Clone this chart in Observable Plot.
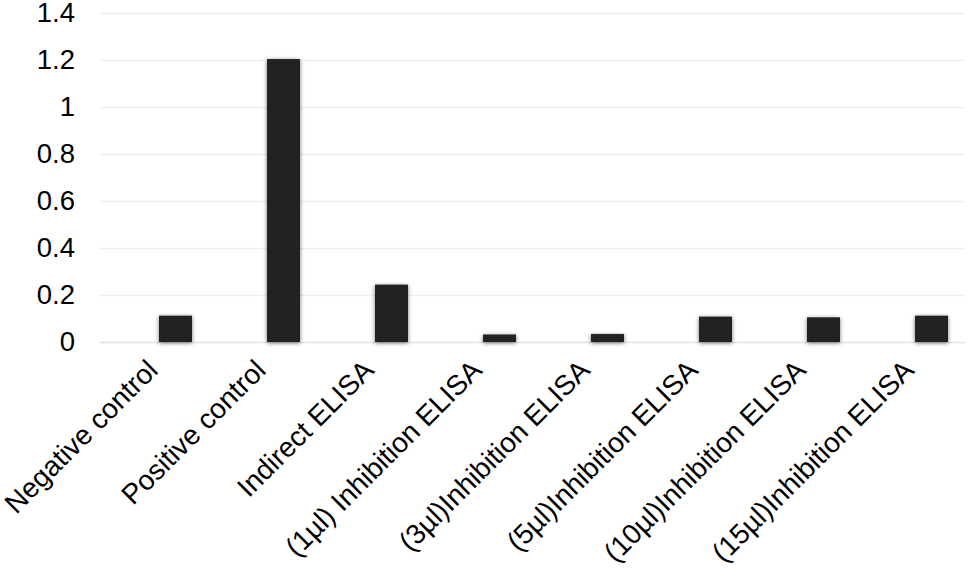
<!DOCTYPE html>
<html>
<head>
<meta charset="utf-8">
<script src="https://cdn.jsdelivr.net/npm/d3@7"></script>
<script src="https://cdn.jsdelivr.net/npm/@observablehq/plot@0.6"></script>
<style>
  html, body { margin: 0; padding: 0; background: #fff; }
  #chart svg g[aria-label="bar"] rect { filter: drop-shadow(0px 1px 2px rgba(0,0,0,0.55)); }
</style>
</head>
<body>
<div id="chart"></div>
<script>
const categories = [
  "Negative control",
  "Positive control",
  "Indirect ELISA",
  "(1µl) Inhibition ELISA",
  "(3µl)Inhibition ELISA",
  "(5µl)Inhibition ELISA",
  "(10µl)Inhibition ELISA",
  "(15µl)Inhibition ELISA"
];
const values = [0.112, 1.204, 0.244, 0.032, 0.034, 0.108, 0.105, 0.112];
const yTicks = [0, 0.2, 0.4, 0.6, 0.8, 1, 1.2, 1.4];

const data = categories.map((c, i) => ({category: c, value: values[i]}));

const chart = Plot.plot({
  width: 969,
  height: 574,
  marginLeft: 100,
  marginRight: 4,
  marginTop: 13,
  marginBottom: 232,
  style: {fontFamily: "'Liberation Sans', Arial, sans-serif", fontSize: "28px", color: "#000", background: "#fff", overflow: "visible"},
  x: {domain: categories, paddingInner: 0.69, paddingOuter: 0.34, align: 0.78, label: null},
  y: {domain: [0, 1.4], label: null},
  marks: [
    Plot.gridY(yTicks.filter(d => d > 0), {stroke: "#efefef", strokeOpacity: 1, strokeWidth: 1.5}),
    Plot.ruleY([0], {stroke: "#e2e2e2", strokeWidth: 1.5}),
    Plot.barY(data, {x: "category", y: "value", fill: "#222222"}),
    Plot.axisY(yTicks, {tickSize: 0, tickPadding: 25.5, tickFormat: d => String(+d.toFixed(1)), fontSize: 27.5}),
    Plot.axisX({tickSize: 0, tickPadding: 23, tickRotate: -45, dx: -23, fontSize: 28})
  ]
});
document.getElementById("chart").appendChild(chart);
</script>
</body>
</html>
